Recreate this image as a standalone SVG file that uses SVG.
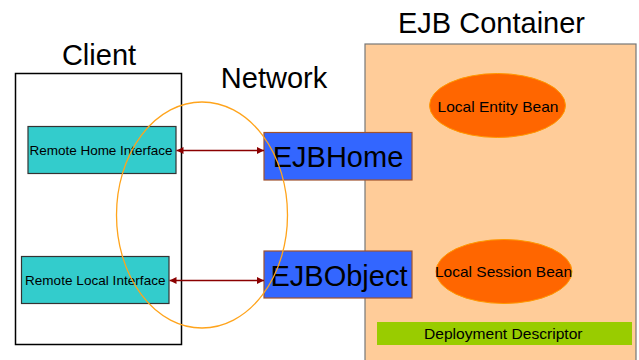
<svg xmlns="http://www.w3.org/2000/svg" width="639" height="360" viewBox="0 0 639 360">
<style>
  text { font-family: "Liberation Sans", Arial, sans-serif; fill: #000; }
  .title { font-size: 29px; text-anchor: middle; }
  .iface { fill: #33CCCC; stroke: #333333; stroke-width: 1.2; }
  .ejb { fill: #3366FF; stroke: #A0522D; stroke-width: 1.2; }
  .bean { fill: #FF6600; stroke: #FF9900; stroke-width: 1; }
  .small { font-size: 13.5px; }
  .mid { font-size: 15px; }
  .big { font-size: 29px; }
  .conn { stroke: #8B0000; stroke-width: 1.3; fill: none; marker-start: url(#ah); marker-end: url(#ah); }
</style>
<defs>
  <marker id="ah" viewBox="0 0 10 10" refX="10" refY="5" markerWidth="7" markerHeight="7" markerUnits="userSpaceOnUse" orient="auto-start-reverse">
    <path d="M0,0 L10,5 L0,10 z" fill="#8B0000"/>
  </marker>
</defs>
<rect width="639" height="360" fill="#FFFFFF"/>

<g id="client">
  <rect x="15.5" y="73.5" width="166" height="271" fill="#FFFFFF" stroke="#000" stroke-width="1.5"/>
  <text class="title" x="99" y="65">Client</text>
</g>

<g id="container">
  <rect x="365" y="44" width="271" height="330" fill="#FFCC99" stroke="#777777" stroke-width="1.2"/>
  <text class="title" x="491.5" y="33">EJB Container</text>
</g>

<g id="network-label">
  <text class="title" x="274" y="88">Network</text>
</g>

<g id="remote-home-interface">
  <rect class="iface" x="28" y="126.5" width="148" height="47"/>
  <text class="small" x="29.5" y="155" textLength="143" lengthAdjust="spacing">Remote Home Interface</text>
</g>

<g id="remote-local-interface">
  <rect class="iface" x="21.5" y="256.5" width="147.5" height="47"/>
  <text class="small" x="25" y="285" textLength="140.5" lengthAdjust="spacing">Remote Local Interface</text>
</g>

<g id="ejbhome">
  <rect class="ejb" x="264" y="132.5" width="148" height="47.5"/>
  <text class="big" x="338" y="166.5" text-anchor="middle">EJBHome</text>
</g>

<g id="ejbobject">
  <rect class="ejb" x="264" y="251" width="148" height="47"/>
  <text class="big" x="339" y="285.5" text-anchor="middle">EJBObject</text>
</g>

<g id="local-entity-bean">
  <ellipse class="bean" cx="497.5" cy="105.5" rx="68" ry="32"/>
  <text class="mid" x="437.5" y="111.5" textLength="121" lengthAdjust="spacingAndGlyphs">Local Entity Bean</text>
</g>

<g id="local-session-bean">
  <ellipse class="bean" cx="504" cy="271.5" rx="68" ry="32"/>
  <text class="mid" x="435" y="277.3" textLength="137" lengthAdjust="spacingAndGlyphs">Local Session Bean</text>
</g>

<g id="deployment-descriptor">
  <rect x="377" y="322" width="255" height="23" fill="#99CC00"/>
  <text class="mid" x="424" y="339.3" textLength="158.5" lengthAdjust="spacingAndGlyphs">Deployment Descriptor</text>
</g>

<g id="network">
  <ellipse cx="202" cy="215" rx="85.5" ry="113" fill="none" stroke="#FFA41C" stroke-width="1.3"/>
</g>

<g id="connectors">
  <line class="conn" x1="176.5" y1="150.5" x2="264" y2="150.5"/>
  <line class="conn" x1="169.5" y1="280.5" x2="264" y2="280.5"/>
</g>
</svg>
